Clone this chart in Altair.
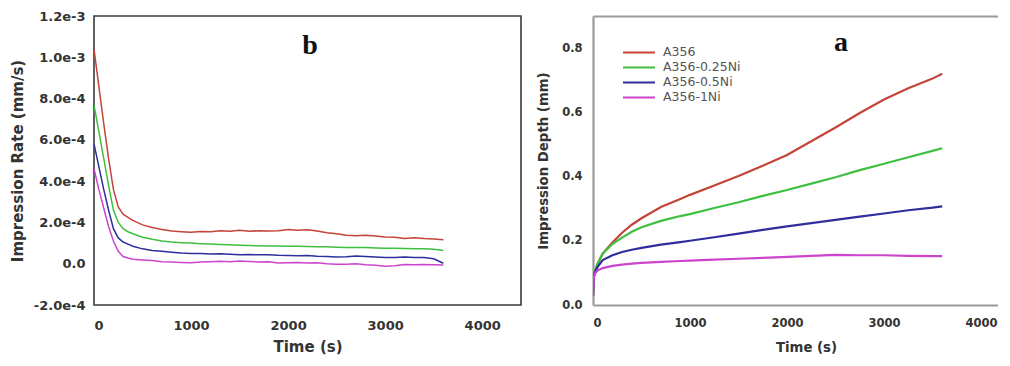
import altair as alt
import pandas as pd

series = ["A356", "A356-0.25Ni", "A356-0.5Ni", "A356-1Ni"]
colors = ["#c4443a", "#3fbf3f", "#2e2e9c", "#cc44cc"]

# ---- panel b: impression rate (mm/s) vs time (s)
rate_time = [0, 50, 100, 150, 200, 250, 300, 350, 400, 500, 600, 700, 800, 900,
             1000, 1100, 1200, 1300, 1400, 1500, 1600, 1700, 1800, 1900, 2000,
             2100, 2200, 2300, 2400, 2500, 2600, 2700, 2800, 2900, 3000, 3100,
             3200, 3300, 3400, 3500, 3600]
rate_a356 = [10.4e-4, 8.6e-4, 6.8e-4, 5.1e-4, 3.6e-4, 2.75e-4, 2.4e-4, 2.25e-4, 2.1e-4,
             1.88e-4, 1.75e-4, 1.66e-4, 1.58e-4, 1.55e-4, 1.52e-4, 1.56e-4, 1.55e-4,
             1.6e-4, 1.57e-4, 1.62e-4, 1.57e-4, 1.6e-4, 1.58e-4, 1.6e-4, 1.66e-4,
             1.62e-4, 1.64e-4, 1.58e-4, 1.5e-4, 1.45e-4, 1.38e-4, 1.36e-4, 1.38e-4,
             1.34e-4, 1.3e-4, 1.28e-4, 1.22e-4, 1.26e-4, 1.22e-4, 1.2e-4, 1.16e-4]
rate_025 = [7.7e-4, 6.4e-4, 5.1e-4, 3.8e-4, 2.6e-4, 2.0e-4, 1.7e-4, 1.55e-4, 1.45e-4,
            1.28e-4, 1.18e-4, 1.1e-4, 1.05e-4, 1.02e-4, 1.0e-4, 0.97e-4, 0.95e-4,
            0.93e-4, 0.92e-4, 0.9e-4, 0.88e-4, 0.87e-4, 0.86e-4, 0.86e-4, 0.84e-4,
            0.85e-4, 0.83e-4, 0.82e-4, 0.82e-4, 0.8e-4, 0.79e-4, 0.78e-4, 0.78e-4,
            0.76e-4, 0.75e-4, 0.75e-4, 0.74e-4, 0.72e-4, 0.72e-4, 0.7e-4, 0.64e-4]
rate_05 = [5.8e-4, 4.7e-4, 3.6e-4, 2.6e-4, 1.7e-4, 1.25e-4, 1.05e-4, 0.95e-4, 0.85e-4,
           0.72e-4, 0.64e-4, 0.6e-4, 0.56e-4, 0.52e-4, 0.5e-4, 0.5e-4, 0.47e-4,
           0.48e-4, 0.46e-4, 0.44e-4, 0.45e-4, 0.43e-4, 0.44e-4, 0.41e-4, 0.4e-4,
           0.38e-4, 0.4e-4, 0.36e-4, 0.35e-4, 0.33e-4, 0.34e-4, 0.37e-4, 0.35e-4,
           0.32e-4, 0.3e-4, 0.3e-4, 0.32e-4, 0.3e-4, 0.3e-4, 0.24e-4, 0.02e-4]
rate_1 = [4.6e-4, 3.6e-4, 2.7e-4, 1.8e-4, 1.1e-4, 0.6e-4, 0.35e-4, 0.28e-4, 0.22e-4,
          0.18e-4, 0.15e-4, 0.1e-4, 0.08e-4, 0.06e-4, 0.05e-4, 0.08e-4, 0.1e-4,
          0.12e-4, 0.1e-4, 0.13e-4, 0.11e-4, 0.08e-4, 0.1e-4, 0.04e-4, 0.05e-4,
          0.06e-4, 0.03e-4, 0.05e-4, 0.0, -0.03e-4, -0.02e-4, 0.0, -0.05e-4,
          -0.08e-4, -0.12e-4, -0.1e-4, -0.04e-4, -0.05e-4, -0.04e-4, -0.05e-4, -0.06e-4]
rate_ticks = [-2e-4, 0.0, 2e-4, 4e-4, 6e-4, 8e-4, 1e-3, 1.2e-3]
rate_tick_labels = ["-2.0e-4", "0.0", "2.0e-4", "4.0e-4", "6.0e-4", "8.0e-4", "1.0e-3", "1.2e-3"]

# ---- panel a: impression depth (mm) vs time (s)
depth_time = [0, 10, 25, 50, 100, 200, 300, 400, 500, 700, 900, 1000, 1250, 1500,
              1750, 2000, 2250, 2500, 2750, 3000, 3250, 3500, 3600]
depth_a356 = [0.03, 0.09, 0.11, 0.13, 0.16, 0.195, 0.225, 0.25, 0.27, 0.305, 0.33, 0.343,
              0.372, 0.402, 0.434, 0.467, 0.51, 0.553, 0.598, 0.64, 0.675, 0.705, 0.72]
depth_025 = [0.03, 0.09, 0.11, 0.13, 0.16, 0.19, 0.21, 0.228, 0.242, 0.262, 0.277, 0.283,
             0.302, 0.32, 0.34, 0.358, 0.378, 0.398, 0.42, 0.44, 0.46, 0.48, 0.488]
depth_05 = [0.03, 0.09, 0.105, 0.12, 0.14, 0.155, 0.165, 0.172, 0.178, 0.188, 0.196, 0.2,
            0.211, 0.222, 0.234, 0.245, 0.255, 0.265, 0.275, 0.285, 0.295, 0.303, 0.307]
depth_1 = [0.03, 0.09, 0.1, 0.108, 0.115, 0.122, 0.126, 0.129, 0.131, 0.134, 0.137, 0.138,
           0.141, 0.144, 0.147, 0.15, 0.153, 0.156, 0.155, 0.155, 0.153, 0.152, 0.152]
depth_ticks = [0.0, 0.2, 0.4, 0.6, 0.8]
time_ticks = [0, 1000, 2000, 3000, 4000]

# panel letters (data coordinates)
letter_b = {"t": [2227], "rate": [1.015e-3], "label": ["b"]}
letter_a = {"t": [2557], "depth": [0.79], "label": ["a"]}


def long_df(time, cols, name):
    rows = []
    for i, (s, vals) in enumerate(zip(series, cols)):
        for t, v in zip(time, vals):
            rows.append({"t": t, name: v, "series": s, "k": i})
    return pd.DataFrame(rows)


rate_df = long_df(rate_time, [rate_a356, rate_025, rate_05, rate_1], "rate")
depth_df = long_df(depth_time, [depth_a356, depth_025, depth_05, depth_1], "depth")

FONT = "DejaVu Sans"
lab_expr = " : ".join(
    f"abs(datum.value - ({v})) < 1e-9 ? '{lab}'" for v, lab in zip(rate_ticks, rate_tick_labels)
) + " : ''"

# ---------------- left panel (b)
x_left_scale = alt.Scale(domain=[0, 4400], nice=False)
y_left_scale = alt.Scale(domain=[-2e-4, 1.2e-3], nice=False, zero=False)
x_left = alt.X(
    "t:Q",
    scale=x_left_scale,
    axis=alt.Axis(values=time_ticks, format="d", title="Time (s)", grid=False,
                  domain=False, ticks=False, labelPadding=14, labelFont=FONT,
                  labelFontSize=13, labelFontWeight="bold", labelColor="#333",
                  titleFont=FONT, titleFontSize=15, titleFontWeight="bold",
                  titleColor="#333", titlePadding=7),
)
y_left = alt.Y(
    "rate:Q",
    scale=y_left_scale,
    axis=alt.Axis(values=rate_ticks, labelExpr=lab_expr, title="Impression Rate (mm/s)",
                  grid=False, domain=False, ticks=False, labelPadding=9, labelFont=FONT,
                  labelFontSize=13, labelFontWeight="bold", labelColor="#333",
                  titleFont=FONT, titleFontSize=15, titleFontWeight="bold",
                  titleColor="#333", titlePadding=8),
)
left_lines = alt.Chart(rate_df).mark_line(strokeWidth=1.5, clip=True).encode(
    x=x_left,
    y=y_left,
    color=alt.Color("series:N", scale=alt.Scale(domain=series, range=colors), legend=None),
    order="t:Q",
)
left_text = alt.Chart(pd.DataFrame(letter_b)).mark_text(
    font="Liberation Serif", fontWeight="bold", fontSize=28, baseline="alphabetic",
    align="center", color="#111"
).encode(
    x=alt.X("t:Q"),
    y=alt.Y("rate:Q"),
    text="label:N",
)
left = alt.layer(left_lines, left_text).properties(
    width=427, height=289,
    view=alt.ViewBackground(stroke="#3a3a3a", strokeWidth=1.6),
)

# ---------------- right panel (a)
x_right = alt.X(
    "t:Q",
    scale=alt.Scale(domain=[0, 4175], nice=False),
    axis=alt.Axis(orient="bottom", values=time_ticks, format="d", title="Time (s)",
                  grid=False, domain=True, domainColor="#999", domainWidth=2.2,
                  ticks=False, labelPadding=12, labelFont=FONT, labelFontSize=11.5,
                  labelFontWeight="bold", labelColor="#333", titleFont=FONT,
                  titleFontSize=13.3, titleFontWeight="bold", titleColor="#333",
                  titlePadding=12, titleX=213),
)
y_right = alt.Y(
    "depth:Q",
    scale=alt.Scale(domain=[0, 0.9], nice=False),
    axis=alt.Axis(values=depth_ticks, format=".1f", title="Impression Depth (mm)",
                  grid=False, domain=True, domainColor="#999", domainWidth=2.2,
                  ticks=False, labelPadding=11, labelFont=FONT, labelFontSize=11.5,
                  labelFontWeight="bold", labelColor="#333", titleFont=FONT,
                  titleFontSize=13.3, titleFontWeight="bold", titleColor="#333",
                  titlePadding=11),
)
right_lines = alt.Chart(depth_df).mark_line(strokeWidth=2.2, clip=True).encode(
    x=x_right,
    y=y_right,
    color=alt.Color(
        "series:N",
        scale=alt.Scale(domain=series, range=colors),
        legend=alt.Legend(
            orient="none", legendX=29, legendY=29, title=None, symbolType="stroke",
            symbolSize=1024, symbolStrokeWidth=2, clipHeight=14.8, labelFont=FONT,
            labelFontSize=12.5, labelColor="#555", labelOffset=7, padding=0,
            rowPadding=0,
        ),
    ),
    order="t:Q",
)
right_text = alt.Chart(pd.DataFrame(letter_a)).mark_text(
    font="Liberation Serif", fontWeight="bold", fontSize=28, baseline="alphabetic",
    align="center", color="#111"
).encode(
    x=alt.X("t:Q", axis=alt.Axis(orient="top", labels=False, ticks=False, title=None,
                                 grid=False, domain=True, domainColor="#999",
                                 domainWidth=2.2)),
    y=alt.Y("depth:Q"),
    text="label:N",
)
right = alt.layer(right_lines, right_text).properties(
    width=405, height=289,
    view=alt.ViewBackground(stroke=None),
)

chart = alt.hconcat(left, right, spacing=14).resolve_scale(color="independent").properties(
    padding={"left": 1, "top": 1, "right": 0, "bottom": 0},
    background="white",
)

chart.save("out.html", embed_options={"renderer": "svg", "actions": False})
